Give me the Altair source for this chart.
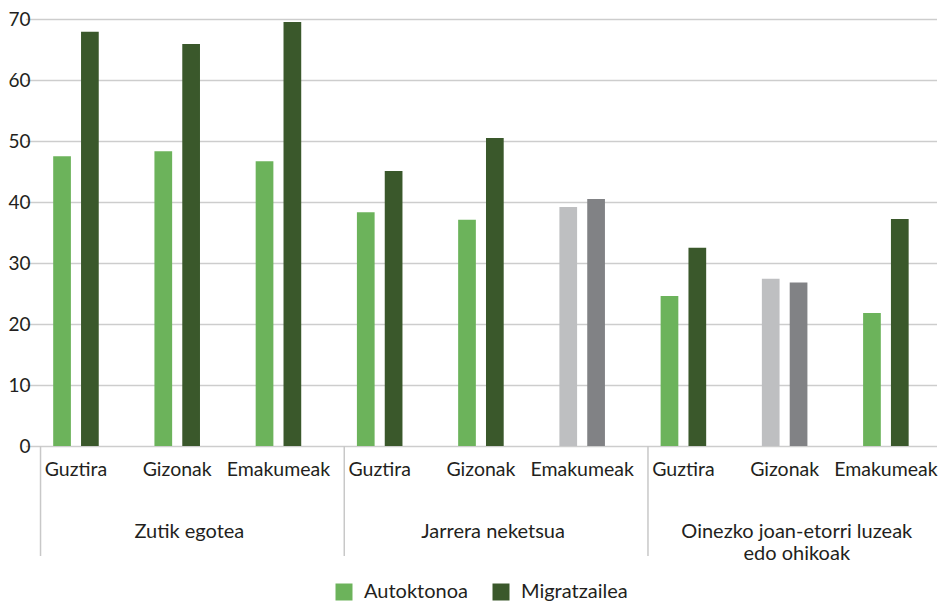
import altair as alt
import pandas as pd

groups = ["Zutik egotea", "Jarrera neketsua", "Oinezko joan-etorri luzeak\nedo ohikoak"]
subs = ["Guztira", "Gizonak", "Emakumeak"]
autoktonoa = [47.5, 48.3, 46.7, 38.3, 37.1, 39.2, 24.6, 27.4, 21.8]
migratzailea = [67.9, 65.9, 69.5, 45.1, 50.5, 40.5, 32.5, 26.8, 37.2]
significant = [True, True, True, True, True, False, True, False, True]
series_names = ["Autoktonoa", "Migratzailea"]

color_domain = ["Autoktonoa", "Migratzailea", "Autoktonoa (ez esanguratsua)", "Migratzailea (ez esanguratsua)"]
color_range = ["#6cb35b", "#3a582b", "#bebfc1", "#818285"]

rows, cats, order = [], [], []
for gi, g in enumerate(groups):
    for si, s in enumerate(subs):
        i = gi * 3 + si
        key = f"{gi}_{s}"
        order.append(key)
        cats.append(dict(key=key, group=g, sub=s))
        for sname, vals in zip(series_names, (autoktonoa, migratzailea)):
            ck = sname if significant[i] else sname + " (ez esanguratsua)"
            rows.append(dict(key=key, group=g, sub=s, series=sname, value=vals[i], ckey=ck))

df = pd.DataFrame(rows)
cat_df = pd.DataFrame(cats)

W, H = 900, 427
FONT = "Lato"
TXT = "#231f20"
FS = 20
XRANGE = [-11.65, 899.5]

xs = alt.Scale(paddingInner=0, paddingOuter=0, range=XRANGE)

bars = alt.Chart(df).mark_bar().encode(
    x=alt.X("key:N", sort=order, title=None, scale=xs, axis=None),
    xOffset=alt.XOffset("series:N", sort=series_names,
                        scale=alt.Scale(paddingInner=0.364, paddingOuter=1)),
    y=alt.Y("value:Q", title=None,
            scale=alt.Scale(domain=[0, 70], nice=False),
            axis=alt.Axis(values=[0, 10, 20, 30, 40, 50, 60, 70], domain=False, ticks=False,
                          gridColor="#cdcdcd", gridWidth=1.5, labelPadding=7,
                          labelFontSize=19, labelColor=TXT, labelFont=FONT)),
    color=alt.Color("ckey:N", scale=alt.Scale(domain=color_domain, range=color_range),
                    legend=alt.Legend(values=series_names, title=None, orient="none",
                                      legendX=297, legendY=563, direction="horizontal",
                                      symbolType="square", symbolSize=289, symbolStrokeWidth=0,
                                      labelFontSize=FS, labelFont=FONT, labelColor=TXT,
                                      labelOffset=10, columnPadding=23)),
)

rules = alt.Chart(cat_df).transform_filter(alt.datum.sub == "Guztira").mark_rule(
    color="#c8c8c8", strokeWidth=1.5
).encode(
    x=alt.X("key:N", sort=order, bandPosition=0.15, axis=None),
    y=alt.value(H), y2=alt.value(H + 110),
)

sublabels = alt.Chart(cat_df).mark_text(
    fontSize=19.5, font=FONT, color=TXT, baseline="middle", align="center"
).encode(
    x=alt.X("key:N", sort=order, axis=None),
    y=alt.value(H + 24),
    text="sub:N",
)

grouplabels = alt.Chart(cat_df).transform_filter(alt.datum.sub == "Gizonak").mark_text(
    fontSize=FS, font=FONT, color=TXT, baseline="top", align="center",
    lineBreak="\n", lineHeight=22
).encode(
    x=alt.X("key:N", sort=order, bandPosition=0.62, axis=None),
    y=alt.value(H + 76),
    text="group:N",
)

chart = alt.layer(bars, rules, sublabels, grouplabels).properties(
    width=W, height=H,
    autosize=alt.AutoSizeParams(type="none"),
    padding={"left": 29, "top": 11, "right": 1, "bottom": 158},
).configure_view(stroke=None)

chart.save("out.html", embed_options={"renderer": "svg", "actions": False})
